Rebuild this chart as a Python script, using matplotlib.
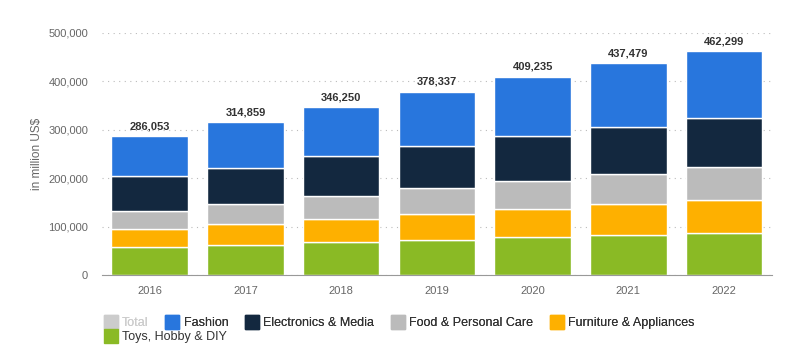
import matplotlib
matplotlib.use("Agg")
import matplotlib.pyplot as plt
import numpy as np
from matplotlib.lines import Line2D

plt.rcParams['font.family'] = ['Liberation Sans', 'DejaVu Sans']

years = ['2016', '2017', '2018', '2019', '2020', '2021', '2022']
totals = [286053, 314859, 346250, 378337, 409235, 437479, 462299]

# segment values, million US$
toys = [57500, 61600, 67800, 72000, 78100, 82300, 86400]
furniture = [37100, 43300, 47500, 53600, 57800, 63900, 68000]
food = [37200, 41300, 47400, 53600, 57700, 61800, 68100]
electronics = [72100, 75400, 82500, 86600, 92800, 96900, 101000]
fashion = [t - (a + b + c + d) for t, a, b, c, d in zip(totals, toys, furniture, food, electronics)]

series = [
    ("Toys, Hobby & DIY", toys, "#8aba25"),
    ("Furniture & Appliances", furniture, "#feb000"),
    ("Food & Personal Care", food, "#bbbbbb"),
    ("Electronics & Media", electronics, "#13283f"),
    ("Fashion", fashion, "#2876dd"),
]

fig = plt.figure(figsize=(7.9, 3.53), dpi=100)
ax = fig.add_axes([0.129, 0.221, 0.848, 0.686])

x = np.arange(len(years))
bottom = np.zeros(len(years))
for name, vals, col in series:
    ax.bar(x, vals, width=0.8, bottom=bottom, color=col, edgecolor='white', linewidth=1, zorder=3)
    bottom += np.array(vals)

for xi, t in zip(x, totals):
    ax.annotate(f"{t:,}", (xi, t), xytext=(0, 3.5), textcoords='offset points',
                ha='center', va='bottom', fontsize=8, fontweight='bold', color='#333333')

ax.set_xlim(-0.5, len(years) - 0.5)
ax.set_ylim(0, 500000)
ax.set_yticks(np.arange(0, 500001, 100000))
ax.set_yticklabels([f"{v:,}" for v in range(0, 500001, 100000)])
ax.set_xticks(x)
ax.set_xticklabels(years)
ax.tick_params(axis='both', length=0, labelsize=8, colors='#666666')
ax.tick_params(axis='y', pad=10)
ax.tick_params(axis='x', pad=8)
ax.grid(axis='y', linestyle=(0, (1, 4)), color='#bbbbbb', linewidth=0.8, zorder=0)
for s in ['top', 'right', 'left']:
    ax.spines[s].set_visible(False)
ax.spines['bottom'].set_color('#999999')
ax.spines['bottom'].set_zorder(4)
ax.set_ylabel("in million US$", fontsize=8.5, color='#666666', labelpad=4)

def handle(c):
    return Line2D([], [], marker='s', linestyle='none', markersize=9.5,
                  markerfacecolor=c, markeredgecolor=c)

row1 = [("Total", "#cccccc"), ("Fashion", "#2876dd"), ("Electronics & Media", "#13283f"),
        ("Food & Personal Care", "#bbbbbb"), ("Furniture & Appliances", "#feb000")]
leg1 = fig.legend([handle(c) for _, c in row1], [n for n, _ in row1], ncol=5,
                  loc='upper left', bbox_to_anchor=(0.133, 0.101), frameon=False,
                  fontsize=9, handlelength=0.9, handletextpad=0.45, columnspacing=1.45,
                  borderaxespad=0, borderpad=0)
for t in leg1.get_texts():
    t.set_color('#333333')
leg1.get_texts()[0].set_color('#cccccc')
fig.add_artist(leg1)
leg2 = fig.legend([handle("#8aba25")], ["Toys, Hobby & DIY"], loc='upper left',
                  bbox_to_anchor=(0.133, 0.061), frameon=False, fontsize=9,
                  handlelength=0.9, handletextpad=0.45, borderaxespad=0, borderpad=0)
leg2.get_texts()[0].set_color('#333333')

fig.savefig("out.png", dpi=100)
